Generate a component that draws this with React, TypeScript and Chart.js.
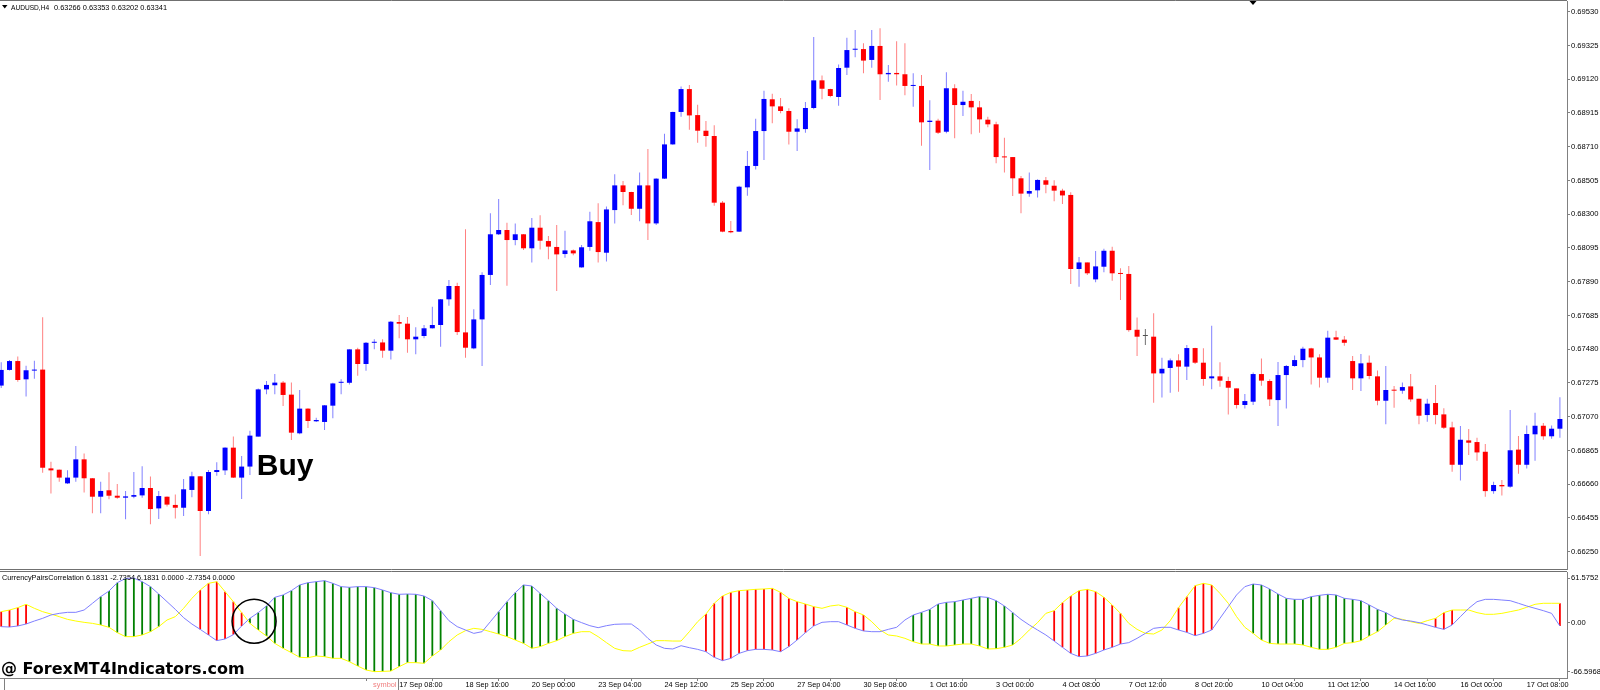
import React, { useEffect, useRef } from "react";
import { Chart, registerables } from "chart.js";

Chart.register(...registerables);

// ---------- DATA ----------
const opens = [
  0.67259, 0.67354, 0.67408, 0.67297, 0.67350, 0.67356, 0.66756, 0.66748, 0.66665, 0.66700,
  0.66811, 0.66696, 0.66584, 0.66623, 0.66590, 0.66578, 0.66584, 0.66592, 0.66637, 0.66513,
  0.66584, 0.66534, 0.66517, 0.66625, 0.66708, 0.66497, 0.66734, 0.66744, 0.66882, 0.66700,
  0.66767, 0.66949, 0.67236, 0.67261, 0.67277, 0.67204, 0.66969, 0.67119, 0.67042, 0.67038,
  0.67137, 0.67276, 0.67276, 0.67479, 0.67390, 0.67519, 0.67521, 0.67471, 0.67645, 0.67635,
  0.67540, 0.67560, 0.67607, 0.67627, 0.67783, 0.67864, 0.67582, 0.67485, 0.67661, 0.67931,
  0.68178, 0.68204, 0.68143, 0.68178, 0.68093, 0.68218, 0.68137, 0.68101, 0.68058, 0.68080,
  0.67977, 0.68101, 0.68252, 0.68066, 0.68325, 0.68475, 0.68435, 0.68333, 0.68475, 0.68244,
  0.68516, 0.68724, 0.68921, 0.69060, 0.68902, 0.68807, 0.68775, 0.68370, 0.68198, 0.68194,
  0.68463, 0.68593, 0.68805, 0.68998, 0.68955, 0.68927, 0.68801, 0.68817, 0.68945, 0.69113,
  0.69060, 0.69012, 0.69190, 0.69299, 0.69303, 0.69237, 0.69322, 0.69150, 0.69158, 0.69150,
  0.69079, 0.69079, 0.68860, 0.68868, 0.68801, 0.69065, 0.68963, 0.68988, 0.68949, 0.68874,
  0.68846, 0.68650, 0.68647, 0.68518, 0.68425, 0.68445, 0.68506, 0.68473, 0.68443, 0.68417,
  0.67967, 0.68007, 0.67904, 0.67981, 0.68078, 0.67939, 0.67937, 0.67598, 0.67560, 0.67556,
  0.67333, 0.67366, 0.67412, 0.67374, 0.67487, 0.67398, 0.67303, 0.67315, 0.67287, 0.67242,
  0.67141, 0.67161, 0.67329, 0.67287, 0.67171, 0.67323, 0.67378, 0.67414, 0.67485, 0.67430,
  0.67307, 0.67552, 0.67538, 0.67408, 0.67303, 0.67398, 0.67315, 0.67167, 0.67232, 0.67228,
  0.67254, 0.67179, 0.67080, 0.67153, 0.67084, 0.67005, 0.66778, 0.66926, 0.66916, 0.66857,
  0.66618, 0.66655, 0.66645, 0.66870, 0.66778, 0.66963, 0.67015, 0.66951, 0.66997,
];

const highs = [
  0.67400, 0.67414, 0.67435, 0.67380, 0.67410, 0.67674, 0.66797, 0.66750, 0.66744, 0.66892,
  0.66846, 0.66698, 0.66675, 0.66732, 0.66661, 0.66619, 0.66734, 0.66769, 0.66706, 0.66619,
  0.66586, 0.66598, 0.66692, 0.66736, 0.66710, 0.66746, 0.66793, 0.66884, 0.66949, 0.66831,
  0.66985, 0.67242, 0.67287, 0.67329, 0.67287, 0.67277, 0.67232, 0.67121, 0.67064, 0.67141,
  0.67276, 0.67297, 0.67479, 0.67489, 0.67523, 0.67540, 0.67540, 0.67651, 0.67688, 0.67676,
  0.67613, 0.67627, 0.67738, 0.67785, 0.67900, 0.67884, 0.68208, 0.67722, 0.67947, 0.68305,
  0.68392, 0.68248, 0.68244, 0.68180, 0.68277, 0.68293, 0.68167, 0.68234, 0.68200, 0.68086,
  0.68113, 0.68315, 0.68366, 0.68346, 0.68542, 0.68502, 0.68437, 0.68554, 0.68696, 0.68518,
  0.68789, 0.68923, 0.69075, 0.69085, 0.68965, 0.68866, 0.68840, 0.68380, 0.68259, 0.68473,
  0.68684, 0.68880, 0.69050, 0.69032, 0.69006, 0.68943, 0.68876, 0.68981, 0.69376, 0.69143,
  0.69062, 0.69210, 0.69372, 0.69419, 0.69338, 0.69419, 0.69429, 0.69206, 0.69350, 0.69338,
  0.69156, 0.69146, 0.68992, 0.68880, 0.69162, 0.69089, 0.69050, 0.69030, 0.68988, 0.68892,
  0.68862, 0.68765, 0.68647, 0.68532, 0.68554, 0.68512, 0.68526, 0.68506, 0.68455, 0.68433,
  0.68040, 0.68007, 0.68076, 0.68090, 0.68103, 0.67971, 0.67985, 0.67673, 0.67602, 0.67698,
  0.67428, 0.67424, 0.67449, 0.67505, 0.67489, 0.67485, 0.67623, 0.67400, 0.67313, 0.67242,
  0.67208, 0.67339, 0.67424, 0.67297, 0.67402, 0.67384, 0.67442, 0.67495, 0.67489, 0.67449,
  0.67592, 0.67592, 0.67560, 0.67439, 0.67451, 0.67441, 0.67350, 0.67378, 0.67256, 0.67277,
  0.67329, 0.67179, 0.67179, 0.67262, 0.67121, 0.67040, 0.67013, 0.66995, 0.66942, 0.66904,
  0.66675, 0.66685, 0.67111, 0.66953, 0.67017, 0.67094, 0.67032, 0.67017, 0.67188,
];

const lows = [
  0.67245, 0.67350, 0.67283, 0.67192, 0.67301, 0.66730, 0.66604, 0.66675, 0.66661, 0.66675,
  0.66609, 0.66483, 0.66483, 0.66568, 0.66572, 0.66447, 0.66574, 0.66578, 0.66416, 0.66449,
  0.66524, 0.66451, 0.66467, 0.66580, 0.66224, 0.66477, 0.66712, 0.66716, 0.66698, 0.66570,
  0.66716, 0.66949, 0.67206, 0.67206, 0.67135, 0.66929, 0.66963, 0.67001, 0.67038, 0.66989,
  0.67060, 0.67206, 0.67266, 0.67319, 0.67349, 0.67479, 0.67428, 0.67418, 0.67546, 0.67459,
  0.67449, 0.67546, 0.67605, 0.67495, 0.67744, 0.67566, 0.67428, 0.67479, 0.67378, 0.67870,
  0.68174, 0.67866, 0.68111, 0.68082, 0.68007, 0.68086, 0.68026, 0.67833, 0.68036, 0.68050,
  0.67975, 0.68078, 0.68007, 0.68012, 0.68244, 0.68354, 0.68295, 0.68257, 0.68143, 0.68234,
  0.68514, 0.68722, 0.68892, 0.68813, 0.68734, 0.68710, 0.68352, 0.68190, 0.68184, 0.68192,
  0.68412, 0.68572, 0.68629, 0.68852, 0.68913, 0.68724, 0.68684, 0.68795, 0.68937, 0.68998,
  0.69010, 0.68959, 0.69146, 0.69253, 0.69156, 0.69190, 0.68994, 0.69105, 0.69081, 0.69022,
  0.68953, 0.68716, 0.68568, 0.68787, 0.68791, 0.68761, 0.68896, 0.68785, 0.68795, 0.68828,
  0.68609, 0.68554, 0.68410, 0.68305, 0.68406, 0.68402, 0.68427, 0.68378, 0.68362, 0.67876,
  0.67860, 0.67931, 0.67886, 0.67947, 0.67896, 0.67779, 0.67586, 0.67438, 0.67505, 0.67155,
  0.67187, 0.67216, 0.67222, 0.67293, 0.67390, 0.67258, 0.67236, 0.67252, 0.67084, 0.67120,
  0.67120, 0.67141, 0.67258, 0.67135, 0.67013, 0.67120, 0.67374, 0.67370, 0.67266, 0.67248,
  0.67276, 0.67536, 0.67501, 0.67232, 0.67226, 0.67297, 0.67139, 0.67024, 0.67125, 0.67210,
  0.67161, 0.67024, 0.67040, 0.67024, 0.66995, 0.66736, 0.66683, 0.66837, 0.66803, 0.66584,
  0.66602, 0.66592, 0.66639, 0.66724, 0.66756, 0.66803, 0.66930, 0.66936, 0.66942,
];

const closes = [
  0.67354, 0.67408, 0.67293, 0.67352, 0.67352, 0.66760, 0.66744, 0.66700, 0.66700, 0.66811,
  0.66696, 0.66584, 0.66619, 0.66590, 0.66578, 0.66586, 0.66594, 0.66637, 0.66509, 0.66588,
  0.66536, 0.66517, 0.66629, 0.66708, 0.66497, 0.66734, 0.66746, 0.66882, 0.66700, 0.66767,
  0.66955, 0.67236, 0.67263, 0.67277, 0.67202, 0.66973, 0.67119, 0.67044, 0.67050, 0.67139,
  0.67272, 0.67278, 0.67479, 0.67390, 0.67519, 0.67521, 0.67471, 0.67647, 0.67635, 0.67540,
  0.67556, 0.67607, 0.67627, 0.67783, 0.67864, 0.67584, 0.67489, 0.67661, 0.67931, 0.68178,
  0.68204, 0.68143, 0.68178, 0.68093, 0.68218, 0.68139, 0.68103, 0.68056, 0.68080, 0.68062,
  0.68099, 0.68257, 0.68070, 0.68329, 0.68475, 0.68435, 0.68333, 0.68475, 0.68244, 0.68516,
  0.68724, 0.68921, 0.69060, 0.68900, 0.68807, 0.68775, 0.68370, 0.68194, 0.68190, 0.68467,
  0.68593, 0.68805, 0.69000, 0.68955, 0.68927, 0.68801, 0.68821, 0.68945, 0.69113, 0.69062,
  0.69018, 0.69188, 0.69297, 0.69301, 0.69233, 0.69322, 0.69150, 0.69158, 0.69150, 0.69079,
  0.69081, 0.68858, 0.68868, 0.68795, 0.69065, 0.68963, 0.68983, 0.68949, 0.68876, 0.68846,
  0.68647, 0.68645, 0.68518, 0.68425, 0.68441, 0.68508, 0.68479, 0.68443, 0.68414, 0.67967,
  0.68007, 0.67941, 0.67983, 0.68078, 0.67941, 0.67937, 0.67596, 0.67556, 0.67560, 0.67333,
  0.67361, 0.67412, 0.67374, 0.67487, 0.67398, 0.67299, 0.67315, 0.67289, 0.67246, 0.67141,
  0.67165, 0.67329, 0.67289, 0.67175, 0.67323, 0.67378, 0.67414, 0.67483, 0.67430, 0.67307,
  0.67550, 0.67538, 0.67519, 0.67303, 0.67394, 0.67317, 0.67167, 0.67232, 0.67228, 0.67250,
  0.67175, 0.67076, 0.67149, 0.67080, 0.67003, 0.66778, 0.66930, 0.66912, 0.66853, 0.66618,
  0.66655, 0.66647, 0.66866, 0.66778, 0.66965, 0.67015, 0.66951, 0.66997, 0.67056,
];

// CurrencyPairsCorrelation indicator
const corrBlue = [
  -5.0, -5.5, -4.1, -1.4, 2.7, 6.4, 11.0, 13.2, 14.6, 14.6,
  17.8, 26.9, 36.1, 43.8, 55.2, 61.0, 61.5, 56.6, 49.8, 39.7,
  29.2, 18.7, 7.3, -1.4, -8.7, -16.4, -24.2, -21.9, -16.0, -4.1,
  6.4, 14.2, 23.3, 35.2, 38.4, 44.3, 52.1, 55.2, 56.6, 58.0,
  54.3, 49.8, 48.9, 49.8, 49.8, 48.4, 45.2, 41.5, 39.3, 39.7,
  39.3, 37.0, 30.6, 16.9, 3.2, -5.0, -9.6, -14.2, -11.9, 1.8,
  15.5, 29.2, 41.6, 52.1, 50.7, 40.6, 30.6, 20.1, 12.3, 5.0,
  0.5, -3.7, -6.4, -3.7, -1.8, -1.4, -1.4, -9.6, -21.0, -30.1,
  -34.7, -35.6, -31.1, -33.8, -36.1, -39.3, -47.0, -51.6, -48.4, -41.6,
  -37.9, -36.1, -36.1, -37.0, -39.3, -32.4, -23.3, -13.2, -4.1, 0.9,
  1.8, 1.8, -2.7, -7.3, -10.9, -11.9, -11.9, -8.7, -5.9, 4.1,
  11.0, 14.6, 18.7, 26.0, 28.3, 29.2, 31.5, 33.8, 36.1, 35.0,
  30.6, 23.3, 14.2, 5.0, -2.7, -9.6, -16.4, -24.7, -33.3, -41.6,
  -46.1, -45.2, -41.6, -37.0, -33.3, -28.8, -26.9, -21.0, -14.2, -7.3,
  -5.9, -5.9, -9.6, -12.8, -17.4, -14.2, -9.6, 6.4, 22.4, 38.4,
  49.8, 53.4, 52.1, 46.6, 39.7, 33.8, 32.4, 32.4, 36.1, 37.9,
  39.3, 38.4, 33.8, 32.4, 30.6, 24.7, 18.7, 14.2, 7.8, 4.1,
  2.7, 0.5, -2.7, -5.9, -8.7, -2.7, 8.7, 20.1, 29.2, 32.4,
  32.4, 31.5, 30.6, 27.0, 23.3, 20.1, 16.9, 13.2, -4.1,
];

const corrYellow = [
  15.5, 17.8, 21.0, 25.6, 20.1, 15.5, 12.3, 8.7, 5.0, 2.7,
  0.9, -0.5, -2.7, -5.9, -13.2, -18.7, -18.7, -16.4, -11.9, -5.0,
  4.1, 8.7, 20.1, 33.8, 45.2, 54.3, 56.6, 42.9, 29.2, 14.2,
  -0.5, -9.6, -17.8, -27.9, -34.7, -40.6, -47.0, -47.5, -45.2, -46.1,
  -48.4, -48.4, -53.0, -58.9, -64.4, -66.6, -66.3, -65.8, -59.8, -54.3,
  -54.3, -55.2, -45.2, -37.0, -25.6, -16.4, -10.5, -7.3, -8.7, -11.9,
  -15.1, -18.7, -23.3, -27.9, -34.7, -32.4, -27.9, -24.2, -18.7, -14.2,
  -11.9, -11.9, -18.7, -26.9, -34.7, -37.9, -38.4, -33.3, -28.8, -24.2,
  -24.2, -24.7, -24.7, -11.9, 1.8, 12.3, 27.0, 37.0, 42.0, 44.3,
  45.2, 46.1, 46.6, 47.5, 42.0, 33.8, 29.2, 26.0, 22.4, 20.1,
  23.3, 24.7, 21.5, 15.5, 11.0, 1.8, -9.6, -16.4, -17.8, -21.0,
  -25.6, -28.8, -28.8, -31.5, -31.5, -30.1, -28.8, -28.8, -31.5, -35.6,
  -35.2, -33.3, -30.1, -21.0, -9.6, 0.5, 13.2, 16.9, 27.9, 37.0,
  44.3, 46.1, 42.9, 35.2, 24.7, 13.2, -0.5, -8.7, -14.2, -15.1,
  -9.6, 3.2, 21.0, 36.1, 51.1, 54.3, 52.1, 40.6, 27.0, 8.7,
  -5.9, -14.2, -23.3, -27.9, -28.8, -28.8, -28.8, -30.1, -33.3, -36.1,
  -36.1, -33.3, -27.9, -26.9, -24.2, -17.8, -11.9, -2.7, 6.4, 5.0,
  1.8, -0.5, 3.2, 6.4, 14.2, 17.8, 17.8, 17.8, 14.2, 11.9,
  11.9, 13.2, 15.5, 17.8, 21.5, 25.6, 27.0, 27.0, 27.0,
];

// 1 = green histogram bar, -1 = red histogram bar, 0 = none
const corrSignal = [
  -1, -1, -1, -1, 0, 0, 0, 0, 0, 0,
  0, 0, 1, 1, 1, 1, 1, 1, 1, 1,
  0, 0, 0, 0, -1, -1, -1, -1, -1, -1,
  1, 1, 1, 1, 1, 1, 1, 1, 1, 1,
  1, 1, 1, 1, 1, 1, 1, 1, 1, 1,
  1, 1, 1, 1, 0, 0, 0, 0, 0, 0,
  1, 1, 1, 1, 1, 1, 1, 1, 1, 1,
  0, 0, 0, 0, 0, 0, 0, 0, 0, 0,
  0, 0, 0, 0, 0, -1, -1, -1, -1, -1,
  -1, -1, -1, -1, -1, -1, -1, -1, -1, 0,
  0, 0, -1, -1, -1, 0, 0, 0, 0, 0,
  1, 1, 1, 1, 1, 1, 1, 1, 1, 1,
  1, 1, 1, 0, 0, 0, 0, -1, -1, -1,
  -1, -1, -1, -1, -1, -1, 0, 0, 0, 0,
  0, 0, -1, -1, -1, -1, -1, 0, 0, 0,
  0, 1, 1, 1, 1, 1, 1, 1, 1, 1,
  1, 1, 1, 1, 1, 1, 1, 1, 0, 0,
  0, 0, 0, -1, -1, -1, 0, 0, 0, 0,
  0, 0, 0, 0, 0, 0, 0, 0, -1,
];

const timeLabels = [
  "17 Sep 08:00", "18 Sep 16:00", "20 Sep 00:00", "23 Sep 04:00", "24 Sep 12:00",
  "25 Sep 20:00", "27 Sep 04:00", "30 Sep 08:00", "1 Oct 16:00", "3 Oct 00:00",
  "4 Oct 08:00", "7 Oct 12:00", "8 Oct 20:00", "10 Oct 04:00", "11 Oct 12:00",
  "14 Oct 16:00", "16 Oct 00:00", "17 Oct 08:00",
];
const timeLabelFirstBar = 48;
const timeLabelStep = 8;

const priceTicks = [
  0.66250, 0.66455, 0.66660, 0.66865, 0.67070, 0.67275, 0.67480, 0.67685, 0.67890,
  0.68095, 0.68300, 0.68505, 0.68710, 0.68915, 0.69120, 0.69325, 0.69530,
];
const corrTicks = [-66.5968, 0, 61.5752];
const corrTickText = ["-66.5968", "0.00", "61.5752"];

const titleSymbol = "AUDUSD,H4";
const titleValues = "0.63266 0.63353 0.63202 0.63341";
const indicatorTitle = "CurrencyPairsCorrelation 6.1831 -2.7354 6.1831 0.0000 -2.7354 0.0000";
const watermark = "@ ForexMT4Indicators.com";
const buyLabel = { text: "Buy", bar: 30.82, price: 0.66716 };
const circleMark = { bar: 30.5, value: 2.3, radiusPx: 22 };

// ---------- LAYOUT / STYLE ----------
const X_MIN = -0.145;
const X_MAX = 188.855;
const PRICE_MIN = 0.661388;
const PRICE_MAX = 0.69595;
const CORR_MIN = -75.34;
const CORR_MAX = 69.86;
const SMALL_FONT = '"Liberation Sans", Arial, sans-serif';
const AXIS_GRAY = "#808080";

export default function App() {
  const mainRef = useRef<HTMLCanvasElement>(null);
  const subRef = useRef<HTMLCanvasElement>(null);

  useEffect(() => {
    const idx = opens.map((_, i) => i);
    const dir = (i: number) => (closes[i] > opens[i] ? 1 : closes[i] < opens[i] ? -1 : 0);
    const bodyColors = idx.map((i) => (dir(i) > 0 ? "#0000ff" : dir(i) < 0 ? "#ff0000" : "#505050"));
    const wickColors = idx.map((i) => (dir(i) > 0 ? "#8080ff" : dir(i) < 0 ? "#ff8080" : "#707070"));

    const mainDecor = {
      id: "mainDecor",
      beforeDraw(chart: any) {
        const ctx = chart.ctx;
        ctx.save();
        ctx.fillStyle = "#ffffff";
        ctx.fillRect(0, 0, chart.width, chart.height);
        ctx.restore();
      },
      afterDraw(chart: any) {
        const { ctx, chartArea, scales } = chart;
        ctx.save();
        ctx.strokeStyle = "#707070";
        ctx.lineWidth = 1;
        ctx.beginPath();
        ctx.moveTo(0, 0.5);
        ctx.lineTo(chartArea.right, 0.5);
        ctx.stroke();
        ctx.beginPath();
        ctx.moveTo(0, chartArea.bottom - 0.5);
        ctx.lineTo(chartArea.right, chartArea.bottom - 0.5);
        ctx.stroke();
        // title
        ctx.fillStyle = "#000";
        ctx.beginPath();
        ctx.moveTo(2, 5);
        ctx.lineTo(7.5, 5);
        ctx.lineTo(4.75, 8.5);
        ctx.closePath();
        ctx.fill();
        ctx.textBaseline = "alphabetic";
        ctx.textAlign = "left";
        ctx.font = `6.6px ${SMALL_FONT}`;
        ctx.fillText(titleSymbol, 11, 9.5);
        ctx.font = `7.4px ${SMALL_FONT}`;
        ctx.fillText(titleValues, 54, 9.5);
        // shift marker
        ctx.beginPath();
        ctx.moveTo(1249.5, 1);
        ctx.lineTo(1256.5, 1);
        ctx.lineTo(1253, 5);
        ctx.closePath();
        ctx.fill();
        // Buy label
        ctx.font = `bold 30px ${SMALL_FONT}`;
        ctx.fillText(
          buyLabel.text,
          scales.x.getPixelForValue(buyLabel.bar),
          scales.y.getPixelForValue(buyLabel.price)
        );
        ctx.restore();
      },
    };

    const subDecor = {
      id: "subDecor",
      beforeDraw(chart: any) {
        const ctx = chart.ctx;
        ctx.save();
        ctx.fillStyle = "#ffffff";
        ctx.fillRect(0, 0, chart.width, chart.height);
        ctx.restore();
      },
      afterDraw(chart: any) {
        const { ctx, chartArea, scales } = chart;
        ctx.save();
        ctx.strokeStyle = "#707070";
        ctx.lineWidth = 1;
        ctx.beginPath();
        ctx.moveTo(0, 1.5);
        ctx.lineTo(chartArea.right, 1.5);
        ctx.stroke();
        ctx.fillStyle = "#000";
        ctx.font = `7.3px ${SMALL_FONT}`;
        ctx.textAlign = "left";
        ctx.textBaseline = "alphabetic";
        ctx.fillText(indicatorTitle, 2, 9.7);
        // circle mark
        ctx.beginPath();
        ctx.lineWidth = 1.5;
        ctx.strokeStyle = "#000";
        ctx.arc(
          scales.x.getPixelForValue(circleMark.bar),
          scales.y.getPixelForValue(circleMark.value),
          circleMark.radiusPx,
          0,
          Math.PI * 2
        );
        ctx.stroke();
        // symbol selector
        ctx.lineWidth = 1;
        ctx.strokeStyle = AXIS_GRAY;
        ctx.beginPath();
        ctx.moveTo(398.5, chartArea.bottom);
        ctx.lineTo(398.5, chart.height);
        ctx.moveTo(4.5, chartArea.bottom);
        ctx.lineTo(4.5, chart.height);
        ctx.stroke();
        ctx.fillStyle = "#f08080";
        ctx.font = `7.4px ${SMALL_FONT}`;
        ctx.textAlign = "right";
        ctx.fillText("symbol", 396.5, 117.3);
        // watermark
        ctx.fillStyle = "#000";
        ctx.textAlign = "left";
        ctx.font = 'bold 16px "DejaVu Sans", sans-serif';
        ctx.fillText(watermark, 1, 103.5);
        ctx.restore();
      },
    };

    const main = new Chart(mainRef.current as HTMLCanvasElement, {
      type: "bar",
      data: {
        datasets: [
          {
            type: "bar",
            label: "bodies",
            data: idx.map((i) => ({ x: i, y: [opens[i], closes[i]] })) as any,
            backgroundColor: bodyColors,
            borderWidth: 0,
            barThickness: 5,
            minBarLength: 1,
            grouped: false,
            inflateAmount: 0,
            order: 1,
          } as any,
          {
            type: "bar",
            label: "wicks",
            data: idx.map((i) => ({ x: i, y: [lows[i], highs[i]] })) as any,
            backgroundColor: wickColors,
            borderWidth: 0,
            barThickness: 1,
            grouped: false,
            inflateAmount: 0,
            order: 2,
          } as any,
        ],
      },
      options: {
        animation: false,
        responsive: false,
        devicePixelRatio: 1,
        events: [],
        layout: { padding: { top: 1, bottom: 1, left: 0, right: 0 } },
        plugins: { legend: { display: false }, tooltip: { enabled: false } },
        scales: {
          x: { type: "linear", display: false, min: X_MIN, max: X_MAX, offset: false },
          y: {
            type: "linear",
            position: "right",
            min: PRICE_MIN,
            max: PRICE_MAX,
            afterBuildTicks: (s: any) => {
              s.ticks = priceTicks.map((v) => ({ value: v }));
            },
            afterFit: (s: any) => {
              s.width = 33;
              s.paddingTop = 0;
              s.paddingBottom = 0;
            },
            ticks: {
              autoSkip: false,
              padding: 1,
              color: "#000",
              font: { family: SMALL_FONT, size: 7.6 },
              callback: (v: any) => Number(v).toFixed(5),
            },
            grid: { drawOnChartArea: false, drawTicks: true, tickLength: 3, color: AXIS_GRAY },
            border: { display: true, color: AXIS_GRAY, width: 1 },
          },
        },
      } as any,
      plugins: [mainDecor],
    });

    const sub = new Chart(subRef.current as HTMLCanvasElement, {
      type: "bar",
      data: {
        datasets: [
          {
            type: "line",
            label: "blue",
            data: idx.map((i) => ({ x: i, y: corrBlue[i] })),
            borderColor: "#7f7fff",
            borderWidth: 1,
            pointRadius: 0,
            tension: 0,
            order: 1,
          } as any,
          {
            type: "line",
            label: "yellow",
            data: idx.map((i) => ({ x: i, y: corrYellow[i] })),
            borderColor: "#ffff00",
            borderWidth: 1,
            pointRadius: 0,
            tension: 0,
            order: 2,
          } as any,
          {
            type: "bar",
            label: "hist",
            data: idx.map((i) => ({
              x: i,
              y: corrSignal[i] === 0 ? null : [corrYellow[i], corrBlue[i]],
            })) as any,
            backgroundColor: idx.map((i) => (corrSignal[i] > 0 ? "#008000" : "#ff0000")),
            borderWidth: 0,
            barThickness: 1.8,
            grouped: false,
            inflateAmount: 0,
            order: 3,
          } as any,
        ],
      },
      options: {
        animation: false,
        responsive: false,
        devicePixelRatio: 1,
        events: [],
        layout: { padding: { top: 2, bottom: 0, left: 0, right: 0 } },
        plugins: { legend: { display: false }, tooltip: { enabled: false } },
        scales: {
          x: {
            type: "linear",
            position: "bottom",
            min: X_MIN,
            max: X_MAX,
            offset: false,
            afterBuildTicks: (s: any) => {
              s.ticks = timeLabels.map((_, i) => ({ value: timeLabelFirstBar + i * timeLabelStep }));
            },
            afterFit: (s: any) => {
              s.height = 12;
              s.paddingLeft = 0;
              s.paddingRight = 0;
            },
            ticks: {
              autoSkip: false,
              maxRotation: 0,
              minRotation: 0,
              align: "start",
              padding: 0,
              color: "#000",
              font: { family: SMALL_FONT, size: 7.3 },
              callback: (_v: any, i: number) => timeLabels[i],
            },
            grid: { drawOnChartArea: false, drawTicks: true, tickLength: 3, color: AXIS_GRAY },
            border: { display: true, color: AXIS_GRAY, width: 1 },
          },
          y: {
            type: "linear",
            position: "right",
            min: CORR_MIN,
            max: CORR_MAX,
            afterBuildTicks: (s: any) => {
              s.ticks = corrTicks.map((v) => ({ value: v }));
            },
            afterFit: (s: any) => {
              s.width = 33;
              s.paddingTop = 0;
              s.paddingBottom = 0;
            },
            ticks: {
              autoSkip: false,
              padding: 1,
              color: "#000",
              font: { family: SMALL_FONT, size: 7.6 },
              callback: (_v: any, i: number) => corrTickText[i],
            },
            grid: { drawOnChartArea: false, drawTicks: true, tickLength: 3, color: AXIS_GRAY },
            border: { display: true, color: AXIS_GRAY, width: 1 },
          },
        },
      } as any,
      plugins: [subDecor],
    });

    return () => {
      main.destroy();
      sub.destroy();
    };
  }, []);

  return (
    <div
      style={{
        position: "absolute",
        left: 0,
        top: 0,
        width: 1600,
        height: 690,
        background: "#ffffff",
        overflow: "hidden",
      }}
    >
      <canvas
        ref={mainRef}
        width={1600}
        height={571}
        style={{ position: "absolute", left: 0, top: 0, width: 1600, height: 571 }}
      />
      <canvas
        ref={subRef}
        width={1600}
        height={120}
        style={{ position: "absolute", left: 0, top: 570, width: 1600, height: 120 }}
      />
    </div>
  );
}
